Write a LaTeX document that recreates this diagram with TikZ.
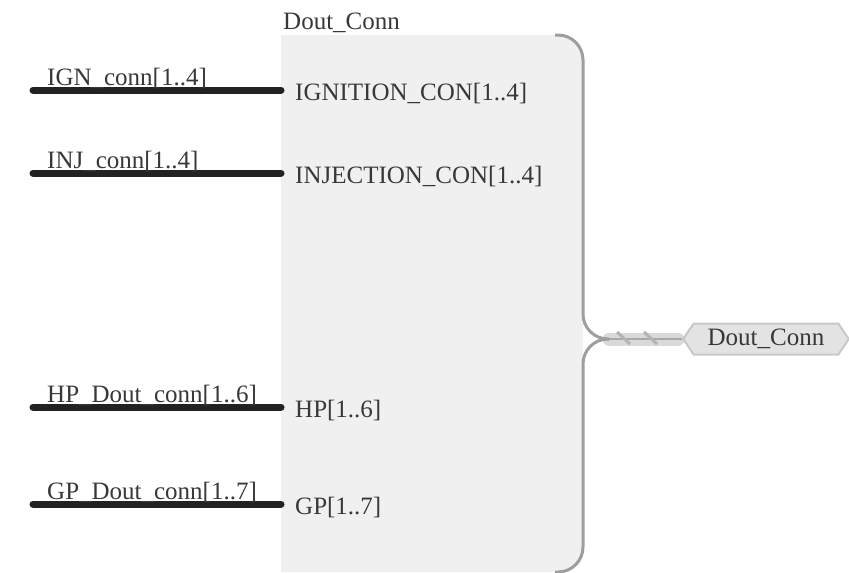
\documentclass[tikz,border=0pt]{standalone}
\usepackage{fontspec}
\setmainfont{Liberation Serif}
\definecolor{wirecolor}{HTML}{222222}
\definecolor{labelcolor}{HTML}{383838}
\definecolor{boxfill}{HTML}{F0F0F0}
\definecolor{bracketcolor}{HTML}{9E9E9E}
\definecolor{bandcolor}{HTML}{D9D9D9}
\definecolor{buslinecolor}{HTML}{A8A8A8}
\definecolor{slashcolor}{HTML}{B4B4B4}
\definecolor{offfill}{HTML}{E3E3E3}
\definecolor{offdraw}{HTML}{C8C8C8}
\usetikzlibrary{shapes.symbols}

\begin{document}
\begin{tikzpicture}[x=1pt,y=-1pt,every node/.style={font=\fontsize{25}{30}\selectfont,text=labelcolor,inner sep=0pt},
wire/.style={line width=7pt,line cap=round,color=wirecolor},bracket/.style={line width=3pt,color=bracketcolor,rounded corners=25pt},
offpagebox/.style={signal,signal to=west and east,signal pointer angle=112,fill=offfill,draw=offdraw,line width=2pt,minimum height=31pt,inner xsep=14pt}]
\useasboundingbox(0,0) rectangle (849,573);
\fill[boxfill](281,35)--(558,35)..controls(572,35)and(583,46)..(583,60)--(583,547)..controls(583,561)and(572,572)..(558,572)--(281,572)--cycle;
\node[anchor=base west](title)at(283,29){Dout\_Conn};
\foreach \wirey/\netname/\portname [count=\i] in {90/IGN\_conn[1..4]/IGNITION\_CON[1..4],173/INJ\_conn[1..4]/INJECTION\_CON[1..4],407/HP\_Dout\_conn[1..6]/HP[1..6],504/GP\_Dout\_conn[1..7]/GP[1..7]}{
\coordinate(wl\i)at(33,\wirey);\coordinate(wr\i)at(281,\wirey);\draw[wire](wl\i)--(wr\i);
\node[anchor=base west](net\i)at(47,\wirey-5){\netname};\node[anchor=base west](port\i)at(295,\wirey+10){\portname};}
\coordinate(bustip)at(609,339);\coordinate(busend)at(682,339);
\draw[line width=13pt,line cap=round,color=bandcolor](bustip)--([xshift=-4pt]busend);\draw[line width=2.5pt,color=buslinecolor](bustip)--(busend);
\foreach \slashx in {617,644}{\draw[line width=3pt,color=slashcolor](\slashx,332)--(\slashx+13,344);}
\draw[bracket](555,35)-|(583,339)--(bustip);\draw[bracket](bustip)--(583,339)|-(555,572);
\node[offpagebox,anchor=west](offpage)at(busend){Dout\_Conn};
\end{tikzpicture}
\end{document}
